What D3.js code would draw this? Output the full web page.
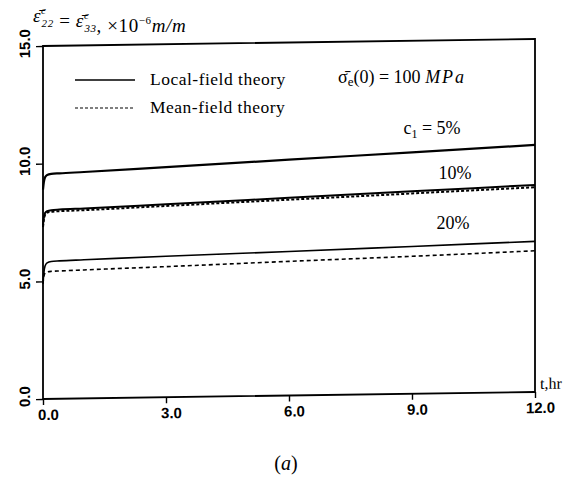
<!DOCTYPE html>
<html>
<head>
<meta charset="utf-8">
<script src="https://cdn.jsdelivr.net/npm/d3@7"></script>
<style>
  html, body { margin: 0; padding: 0; background: #fff; }
  svg { display: block; }
  .serif { font-family: "Liberation Serif", "DejaVu Serif", serif; }
  .sans { font-family: "Liberation Sans", "DejaVu Sans", sans-serif; }
</style>
</head>
<body>
<svg id="chart" width="572" height="496"></svg>
<script>
// Creep strain (x10^-6 m/m) versus time (hr) for three inclusion fractions
const times = [0, 0.02, 0.05, 0.1, 0.2, 0.4, 1, 3, 6, 9, 12];
const local5  = [8.9, 9.2, 9.42, 9.52, 9.56, 9.58, 9.62, 9.78, 10.02, 10.26, 10.5];
const local10 = [7.4, 7.7, 7.9, 7.98, 8.02, 8.04, 8.07, 8.2, 8.4, 8.6, 8.8];
const mean10  = [7.3, 7.6, 7.82, 7.92, 7.95, 7.97, 8.0, 8.13, 8.32, 8.51, 8.7];
const local20 = [4.9, 5.35, 5.65, 5.78, 5.84, 5.86, 5.89, 5.99, 6.12, 6.26, 6.4];
const mean20  = [4.9, 5.2, 5.35, 5.4, 5.42, 5.43, 5.46, 5.55, 5.7, 5.84, 6.0];

const xTicks = [0, 3, 6, 9, 12];
const yTicks = [0, 5, 10, 15];
const seriesNames = ["Local-field theory", "Mean-field theory"];

const svg = d3.select("#chart");
const plotLeft = 43, plotRight = 535, plotTop = 46, plotBottom = 399;

const x = d3.scaleLinear().domain([0, 12]).range([plotLeft, plotRight]);
const y = d3.scaleLinear().domain([0, 15]).range([plotBottom, plotTop]);

// the plotted frame leans slightly upward toward the right
const k = -7 / (plotRight - plotLeft);
const g = svg.append("g")
  .attr("transform", `matrix(1,${k},0,1,0,${-k * plotLeft})`);

const fmt = d3.format(".1f");

// frame
g.append("rect")
  .attr("x", plotLeft).attr("y", plotTop)
  .attr("width", plotRight - plotLeft).attr("height", plotBottom - plotTop)
  .attr("fill", "none").attr("stroke", "#000").attr("stroke-width", 1.8);

// x axis
const xAxis = g.append("g")
  .attr("transform", `translate(0,${plotBottom})`)
  .call(d3.axisBottom(x).tickValues(xTicks).tickSize(6).tickFormat(fmt));
xAxis.select(".domain").remove();
xAxis.selectAll("line").attr("stroke", "#000").attr("stroke-width", 1.4);
xAxis.selectAll("text")
  .attr("class", "sans")
  .attr("font-size", 15).attr("font-weight", "bold")
  .attr("dx", 5).attr("dy", "1.0em").attr("y", 6)
  .attr("fill", "#000");

// y axis with rotated labels
const yAxis = g.append("g")
  .attr("transform", `translate(${plotLeft},0)`)
  .call(d3.axisLeft(y).tickValues(yTicks).tickSize(7).tickFormat(fmt));
yAxis.select(".domain").remove();
yAxis.selectAll("line").attr("stroke", "#000").attr("stroke-width", 1.4);
yAxis.selectAll("text")
  .attr("class", "sans")
  .attr("font-size", 15).attr("font-weight", "bold")
  .attr("x", null).attr("dy", null)
  .attr("text-anchor", "middle")
  .attr("transform", "translate(-13,-3) rotate(-90)")
  .attr("fill", "#000");

// curves
const line = d3.line()
  .x((d, i) => x(times[i]))
  .y(d => y(d))
  .curve(d3.curveMonotoneX);

const curves = [
  { v: local5,  dash: null,  w: 2.2 },
  { v: local10, dash: null,  w: 2.0 },
  { v: mean10,  dash: "3,2", w: 2.0 },
  { v: local20, dash: null,  w: 1.6 },
  { v: mean20,  dash: "4,3", w: 1.6 }
];
g.selectAll("path.curve").data(curves).join("path")
  .attr("class", "curve")
  .attr("d", d => line(d.v))
  .attr("fill", "none")
  .attr("stroke", "#000")
  .attr("stroke-width", d => d.w)
  .attr("stroke-dasharray", d => d.dash);

// time axis unit
g.append("text").attr("class", "serif")
  .attr("x", 540).attr("y", plotBottom - 3).attr("font-size", 16)
  .text("t,hr");

// curve labels
svg.append("text").attr("class", "serif")
  .attr("x", 432).attr("y", 134).attr("text-anchor", "middle")
  .attr("font-size", 18)
  .html('c<tspan font-size="12" dy="4">1</tspan><tspan dy="-4"> = 5%</tspan>');
svg.append("text").attr("class", "serif")
  .attr("x", 455).attr("y", 179).attr("text-anchor", "middle")
  .attr("font-size", 18).text("10%");
svg.append("text").attr("class", "serif")
  .attr("x", 453).attr("y", 229).attr("text-anchor", "middle")
  .attr("font-size", 18).text("20%");

// stress annotation
svg.append("text").attr("class", "serif")
  .attr("x", 338).attr("y", 83).attr("font-size", 18)
  .html('σ\u0304<tspan font-size="13" dy="3">e</tspan><tspan dy="-3">(0) = 100 </tspan><tspan font-style="italic" letter-spacing="2">MPa</tspan>');

// legend
const legend = svg.append("g");
seriesNames.forEach((name, i) => {
  const ly = 80 + i * 28;
  legend.append("line")
    .attr("x1", 75).attr("x2", 135).attr("y1", ly).attr("y2", ly)
    .attr("stroke", "#000").attr("stroke-width", i === 0 ? 1.6 : 1.2)
    .attr("stroke-dasharray", i === 0 ? null : "3,2");
  legend.append("text").attr("class", "serif")
    .attr("x", 150).attr("y", ly + 5).attr("font-size", 17.5)
    .attr("letter-spacing", 0.5)
    .text(name);
});

// strain axis title: symbol with stacked superscript c and subscript indices
const title = svg.append("text").attr("class", "serif")
  .attr("x", 33).attr("y", 22).attr("font-size", 19).attr("font-style", "italic")
  .attr("letter-spacing", 0.6);
function strainSymbol(idx) {
  title.append("tspan").text("ε\u0304");
  title.append("tspan").attr("font-size", 11).attr("dy", -8).text("c");
  title.append("tspan").attr("font-size", 11).attr("dx", -5).attr("dy", 13).text(idx);
  title.append("tspan").attr("dy", -5).text("");
}
strainSymbol("22");
title.append("tspan").attr("font-style", "normal").text(" = ");
strainSymbol("33");
title.append("tspan").attr("font-style", "normal").text(", ×10");
title.append("tspan").attr("font-style", "normal").attr("font-size", 11).attr("dy", -8).text("−6");
title.append("tspan").attr("dy", 8).text("m/m");

// panel caption
svg.append("text").attr("class", "serif")
  .attr("x", 286).attr("y", 470).attr("text-anchor", "middle")
  .attr("font-size", 20)
  .html('(<tspan font-style="italic">a</tspan>)');
</script>
</body>
</html>
